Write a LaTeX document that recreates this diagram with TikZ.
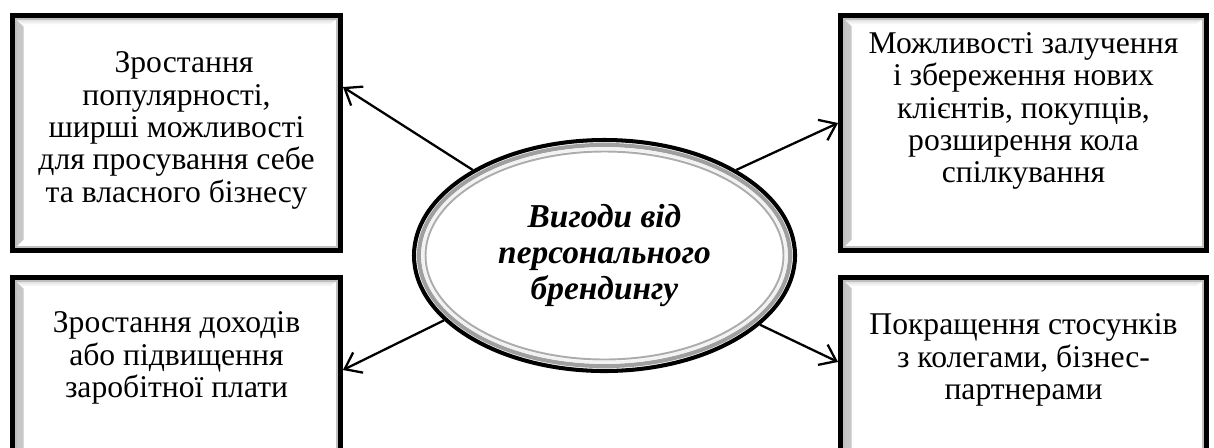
\documentclass[tikz,border=0pt]{standalone}
\usepackage{fontspec}
\setmainfont{Liberation Serif}
\usetikzlibrary{arrows.meta,shapes.geometric}

\tikzset{
  benefit/.style={draw=black, line width=2.8pt, fill=white, inner sep=0pt,
    minimum width=#1, minimum height=4.7cm,
    path picture={
      % bevel on the left and top edge
      \shade[left color=gray!45, right color=white]
        ([shift={(0.05,-0.05)}]path picture bounding box.north west) --
        ([shift={(0.05,0.05)}]path picture bounding box.south west) --
        ([shift={(0.22,0.22)}]path picture bounding box.south west) --
        ([shift={(0.22,-0.22)}]path picture bounding box.north west) -- cycle;
      \shade[top color=gray!30, bottom color=white]
        ([shift={(0.05,-0.05)}]path picture bounding box.north west) --
        ([shift={(-0.05,-0.05)}]path picture bounding box.north east) --
        ([shift={(-0.22,-0.18)}]path picture bounding box.north east) --
        ([shift={(0.22,-0.18)}]path picture bounding box.north west) -- cycle;
      \draw[gray!50, line width=0.6pt]
        ([shift={(0.07,-0.07)}]path picture bounding box.north west) rectangle
        ([shift={(-0.07,0.07)}]path picture bounding box.south east);
    }},
  benefittext/.style={align=center, inner sep=0pt, font=\fontsize{18}{18.4}\selectfont},
  hub/.style={ellipse, draw=black, line width=2.3pt, fill=white, inner sep=0pt,
    minimum width=7.62cm, minimum height=4.62cm, align=center,
    font=\fontsize{19}{20.5}\selectfont\bfseries\itshape,
    path picture={
      % silver ring inside the black border
      \foreach \off/\col/\lw in {0.1/gray!75/2.4pt, 0.17/gray!10/1.6pt, 0.23/gray!65/1.1pt}
        \draw[\col, line width=\lw] (path picture bounding box.center)
          ellipse [x radius={3.81-\off}, y radius={2.31-\off}];
    }},
  arrowline/.style={-{Straight Barb[length=3mm,width=4.5mm]}, line width=1.3pt}
}

\begin{document}
\begin{tikzpicture}
    \useasboundingbox (0,0) rectangle (24.28,-8.94);
    \clip (0,0) rectangle (24.28,-8.94);

    % 1. Blocks with the benefits
    \node[benefit=6.56cm] (tl) at (3.53,-2.66) {};
    \node[benefit=7.32cm] (tr) at (20.47,-2.66) {};
    \node[benefit=6.56cm] (bl) at (3.53,-7.9) {};
    \node[benefit=7.32cm] (br) at (20.47,-7.9) {};

    \node[benefittext] (tltext) at ([yshift=0.05cm]tl.center)
      {\hspace*{0.3cm}Зростання\\популярності,\\ширші можливості\\для просування себе\\та власного бізнесу};
    \node[benefittext] (trtext) at ([yshift=0.44cm]tr.center)
      {Можливості залучення\\і збереження нових\\клієнтів, покупців,\\розширення кола\\спілкування};
    \node[benefittext] (bltext) at ([yshift=-1.66cm]bl.north)
      {Зростання доходів\\або підвищення\\заробітної плати};
    \node[benefittext] (brtext) at ([yshift=-1.7cm]br.north)
      {Покращення стосунків\\з колегами, бізнес-\\партнерами};

    % 2. Central ellipse
    \node[hub] (hub) at (12.09,-5.11) {Вигоди від\\персонального\\брендингу};

    % 3. Arrows from the ellipse to the blocks
    \draw[arrowline] (hub.147) -- ([yshift=0.92cm]tl.east);
    \draw[arrowline] (hub.33.5) -- ([yshift=0.2cm]tr.west);
    \draw[arrowline] (hub.202) -- ([yshift=0.5cm]bl.east);
    \draw[arrowline] (hub.336.5) -- ([yshift=0.66cm]br.west);

\end{tikzpicture}
\end{document}
